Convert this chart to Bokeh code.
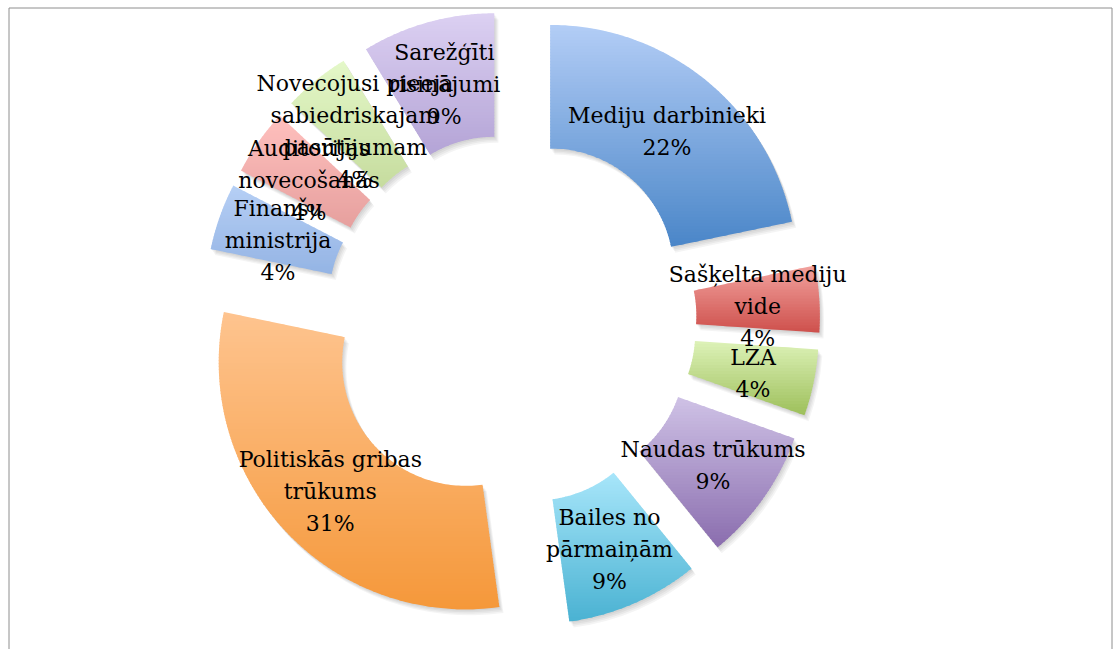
import numpy as np
from bokeh.plotting import figure
from bokeh.models import Range1d, BoxAnnotation
from bokeh.embed import file_html
from bokeh.resources import INLINE
from bokeh.core.properties import value

# ---------------- data ----------------
categories = [
    "Mediju darbinieki", "Sašķelta mediju vide", "LZA", "Naudas trūkums",
    "Bailes no pārmaiņām", "Politiskās gribas trūkums", "Finanšu ministrija",
    "Auditorijas novecošanās", "Novecojusi pieeja sabiedriskajam pasūtījumam",
    "Sarežģīti risinājumi",
]
label_text = [
    "Mediju darbinieki", "Sašķelta mediju\nvide", "LZA", "Naudas trūkums",
    "Bailes no\npārmaiņām", "Politiskās gribas\ntrūkums", "Finanšu\nministrija",
    "Auditorijas\nnovecošanās", "Novecojusi pieeja\nsabiedriskajam\npasūtījumam",
    "Sarežģīti\nrisinājumi",
]
counts = [5, 1, 1, 2, 2, 7, 1, 1, 1, 2]
percent_labels = [22, 4, 4, 9, 9, 31, 4, 4, 4, 9]

# ---------------- style ----------------
top_colors = ["#B3CDF6", "#F2A39F", "#DDF2B8", "#CFC2E6", "#A8E6FA",
              "#FEC48F", "#B6CFF5", "#FFC0BE", "#E4F8C8", "#DCD0F2"]
bottom_colors = ["#4A86C8", "#CE504C", "#9DBF5A", "#8A6DAE", "#4AB2D2",
                 "#F5983A", "#94B4E4", "#E6A09E", "#C6DC9E", "#B4A4D6"]

W, H = 1118, 649
CX, CY = 510.5, 329.5      # ring centre (data units = px)
R_OUT, R_IN = 247.0, 123.5
EXPLODE = 62.0

p = figure(width=W, height=H, output_backend="svg", toolbar_location=None,
           x_range=Range1d(0, W), y_range=Range1d(0, H), min_border=0)
p.axis.visible = False
p.grid.visible = False
p.background_fill_color = "white"
p.border_fill_color = "white"
p.outline_line_color = None

# chart-area frame (bottom edge lies outside the visible page)
p.add_layout(BoxAnnotation(left=8.5, right=1111.5, top=H - 7.5, bottom=-20,
                           fill_color=None, fill_alpha=0,
                           line_color="#8E8E8E", line_alpha=1.0, line_width=1))

vals = np.array(counts, dtype=float)
frac = vals / vals.sum()
cum = np.concatenate([[0.0], np.cumsum(frac)])
th1 = cum[:-1] * 2 * np.pi          # clockwise from 12 o'clock
th2 = cum[1:] * 2 * np.pi
thm = (th1 + th2) / 2
cx = CX + EXPLODE * np.sin(thm)
cy = CY + EXPLODE * np.cos(thm)
start = np.pi / 2 - th2
end = np.pi / 2 - th1


def hex2rgb(h):
    h = h.lstrip("#")
    return np.array([int(h[i:i + 2], 16) for i in (0, 2, 4)], dtype=float)


def mix(a, b, t):
    c = hex2rgb(a) * (1 - t) + hex2rgb(b) * t
    return "#%02x%02x%02x" % tuple(int(round(v)) for v in c)


def clip(pts, y, keep_above):
    out = []
    n = len(pts)
    for i in range(n):
        cur, prev = pts[i], pts[i - 1]
        cin = cur[1] >= y if keep_above else cur[1] <= y
        pin = prev[1] >= y if keep_above else prev[1] <= y
        if cin != pin:
            t = (y - prev[1]) / (cur[1] - prev[1])
            out.append((prev[0] + t * (cur[0] - prev[0]), y))
        if cin:
            out.append(cur)
    return out


# soft shadow
for off in [1.5, 3, 4.5, 6]:
    p.annular_wedge(x=cx + off * 0.7, y=cy - off, inner_radius=R_IN,
                    outer_radius=R_OUT, start_angle=start, end_angle=end,
                    fill_color="black", fill_alpha=0.045, line_color=None)

# gradient-filled slices (horizontal bands)
xs_all, ys_all, cols = [], [], []
STEP = 3.0
for i in range(len(vals)):
    a = np.linspace(th1[i], th2[i], 90)
    ox = cx[i] + R_OUT * np.sin(a)
    oy = cy[i] + R_OUT * np.cos(a)
    ix = cx[i] + R_IN * np.sin(a[::-1])
    iy = cy[i] + R_IN * np.cos(a[::-1])
    poly = list(zip(np.concatenate([ox, ix]), np.concatenate([oy, iy])))
    ymin = min(pt[1] for pt in poly)
    ymax = max(pt[1] for pt in poly)
    y = ymax
    while y > ymin:
        y_lo = max(y - STEP, ymin)
        band = clip(poly, y_lo - 0.8, True)
        band = clip(band, y, False) if band else band
        if len(band) >= 3:
            t = ((ymax - (y + y_lo) / 2) / (ymax - ymin))
            xs_all.append([pt[0] for pt in band])
            ys_all.append([pt[1] for pt in band])
            cols.append(mix(top_colors[i], bottom_colors[i], t))
        y = y_lo

p.patches(xs=xs_all, ys=ys_all, fill_color=cols, line_color=None)

# labels
rm = (R_OUT + R_IN) / 2
lx = cx + rm * np.sin(thm)
ly = cy + rm * np.cos(thm)
texts = [f"{t}\n{pc}%" for t, pc in zip(label_text, percent_labels)]
p.text(x=lx, y=ly, text=texts, text_align="center", text_baseline="middle",
       text_font=value("DejaVu Serif"), text_font_size="22px", y_offset=3,
       text_color="black", text_line_height=1.28)

open("out.html", "w").write(file_html(p, INLINE))
